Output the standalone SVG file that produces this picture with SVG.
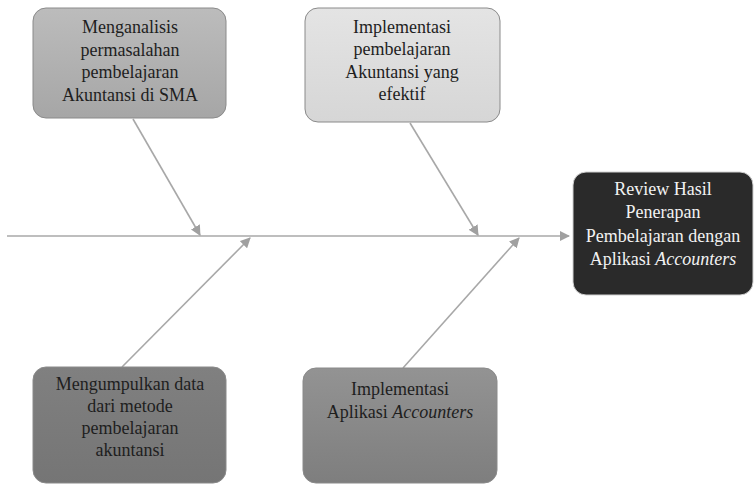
<svg xmlns="http://www.w3.org/2000/svg" width="755" height="485" viewBox="0 0 755 485">
<style>
.box{stroke:#8a8a8a;stroke-width:1}
.t{font-family:"Liberation Serif","Times New Roman",serif;font-size:18px;fill:#1e1e1e;text-anchor:middle}
.w{fill:#f2f2f2}
.c{stroke:#a8a8a8;stroke-width:1.6;fill:none;marker-end:url(#ah)}
</style>
<defs>
<marker id="ah" viewBox="0 0 10 10" refX="9" refY="5" markerWidth="6.5" markerHeight="6.5" markerUnits="strokeWidth" orient="auto">
<path d="M0,0 L10,5 L0,10 z" fill="#a0a0a0"/>
</marker>
<linearGradient id="g1" x1="0" y1="0" x2="0" y2="1"><stop offset="0" stop-color="#bcbcbc"/><stop offset="1" stop-color="#a6a6a6"/></linearGradient>
<linearGradient id="g2" x1="0" y1="0" x2="0" y2="1"><stop offset="0" stop-color="#e4e4e4"/><stop offset="1" stop-color="#d6d6d6"/></linearGradient>
<linearGradient id="g4" x1="0" y1="0" x2="0" y2="1"><stop offset="0" stop-color="#808080"/><stop offset="1" stop-color="#757575"/></linearGradient>
<linearGradient id="g5" x1="0" y1="0" x2="0" y2="1"><stop offset="0" stop-color="#939393"/><stop offset="1" stop-color="#7e7e7e"/></linearGradient>
</defs>
<rect width="755" height="485" fill="#ffffff"/>
<g id="connectors">
<line class="c" x1="7" y1="236" x2="569" y2="236"/>
<line class="c" x1="133" y1="119" x2="200" y2="235"/>
<line class="c" x1="410" y1="123" x2="478" y2="235"/>
<line class="c" x1="122" y1="367" x2="250" y2="238"/>
<line class="c" x1="403" y1="368" x2="519" y2="238"/>
</g>
<g id="n1">
<rect class="box" x="33" y="8" width="193" height="110" rx="13" fill="url(#g1)"/>
<text class="t" x="130" y="33">Menganalisis</text>
<text class="t" x="130" y="56">permasalahan</text>
<text class="t" x="130" y="78">pembelajaran</text>
<text class="t" x="130" y="101">Akuntansi di SMA</text>
</g>
<g id="n2">
<rect class="box" x="305" y="8" width="195" height="114" rx="13" fill="url(#g2)"/>
<text class="t" x="402" y="33">Implementasi</text>
<text class="t" x="402" y="55">pembelajaran</text>
<text class="t" x="402" y="78">Akuntansi yang</text>
<text class="t" x="402" y="100">efektif</text>
</g>
<g id="n3">
<rect x="573" y="172" width="180" height="123" rx="13" fill="#2a2a2a" stroke="#d0d0d0" stroke-width="1"/>
<text class="t w" x="663" y="195">Review Hasil</text>
<text class="t w" x="663" y="218">Penerapan</text>
<text class="t w" x="663" y="242">Pembelajaran dengan</text>
<text class="t w" x="663" y="265">Aplikasi <tspan font-style="italic">Accounters</tspan></text>
</g>
<g id="n4">
<rect class="box" x="33" y="367" width="193" height="116" rx="13" fill="url(#g4)"/>
<text class="t" x="130" y="390">Mengumpulkan data</text>
<text class="t" x="130" y="412">dari metode</text>
<text class="t" x="130" y="434">pembelajaran</text>
<text class="t" x="130" y="456">akuntansi</text>
</g>
<g id="n5">
<rect class="box" x="303" y="368" width="194" height="115" rx="13" fill="url(#g5)"/>
<text class="t" x="400" y="395">Implementasi</text>
<text class="t" x="400" y="418">Aplikasi <tspan font-style="italic">Accounters</tspan></text>
</g>
</svg>
